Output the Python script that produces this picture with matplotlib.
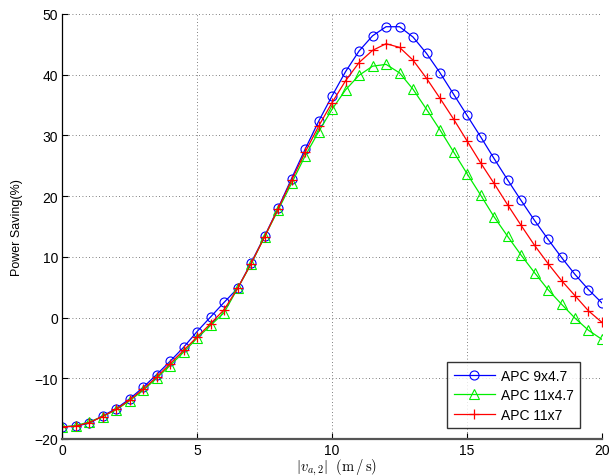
import matplotlib
matplotlib.use("Agg")
import matplotlib.pyplot as plt
import numpy as np

plt.rcParams['font.family'] = ['Liberation Sans', 'DejaVu Sans']
plt.rcParams['mathtext.fontset'] = 'cm'

speed = [i * 0.5 for i in range(41)]

apc_9x47 = [-18.0, -17.9, -17.4, -16.2, -15.0, -13.4, -11.5, -9.4, -7.2, -4.9,
            -2.3, 0.1, 2.5, 4.8, 9.0, 13.4, 18.0, 22.9, 27.7, 32.3,
            36.5, 40.5, 43.9, 46.4, 47.9, 47.9, 46.2, 43.5, 40.3, 36.8,
            33.3, 29.8, 26.2, 22.7, 19.3, 16.0, 12.9, 9.9, 7.1, 4.6, 2.4]

apc_11x47 = [-18.0, -17.8, -17.2, -16.3, -15.2, -13.7, -12.0, -10.0, -7.9, -5.7,
             -3.4, -1.3, 0.8, 4.8, 8.8, 13.3, 17.7, 22.1, 26.6, 30.6,
             34.3, 37.5, 39.9, 41.4, 41.7, 40.3, 37.6, 34.3, 30.9, 27.3,
             23.7, 20.2, 16.6, 13.4, 10.3, 7.4, 4.6, 2.2, -0.1, -2.1, -3.6]

apc_11x7 = [-18.0, -17.9, -17.3, -16.3, -15.1, -13.6, -11.8, -9.8, -7.6, -5.4,
            -3.2, -1.0, 1.3, 4.8, 8.9, 13.3, 17.9, 22.6, 27.2, 31.5,
            35.4, 39.0, 42.0, 44.0, 45.1, 44.5, 42.4, 39.4, 36.1, 32.7,
            29.1, 25.5, 22.1, 18.6, 15.2, 11.9, 8.9, 6.1, 3.6, 1.1, -0.8]

labels = ['APC 9x4.7', 'APC 11x4.7', 'APC 11x7']
xticks = [0, 5, 10, 15, 20]
yticks = [-20, -10, 0, 10, 20, 30, 40, 50]

fig = plt.figure(figsize=(6.09, 4.77), dpi=100)
ax = fig.add_axes([0.102, 0.0776, 0.8865, 0.891])

ax.plot(speed, apc_9x47, color='#0000ff', lw=0.9, marker='o', ms=6.5,
        mfc='none', mec='#0000ff', mew=0.8, label=labels[0])
ax.plot(speed, apc_11x47, color='#00ee00', lw=0.9, marker='^', ms=7,
        mfc='none', mec='#00ee00', mew=0.8, label=labels[1])
ax.plot(speed, apc_11x7, color='#ff0000', lw=0.9, marker='+', ms=7.5,
        mew=0.9, label=labels[2])

ax.set_xlim(0, 20)
ax.set_ylim(-20, 50)
ax.set_xticks(xticks)
ax.set_yticks(yticks)
ax.tick_params(direction='in', length=4, width=0.8, labelsize=10, pad=3)

ax.grid(True, linestyle=(0, (1, 3)), color='#555555', linewidth=0.6)
ax.set_axisbelow(True)
for s in ['top', 'right']:
    ax.spines[s].set_visible(False)
ax.spines['left'].set_linewidth(0.9)
ax.spines['bottom'].set_linewidth(1.6)
ax.spines['bottom'].set_color('#555555')

ax.set_ylabel('Power Saving(%)', fontsize=9, labelpad=8)
ax.set_xlabel(r'$|v_{a,2}|\ \ (\mathrm{m\,/\,s})$', fontsize=10.5, labelpad=0)
ax.xaxis.set_label_coords(0.508, -0.042)

leg = ax.legend(loc='lower right', bbox_to_anchor=(0.959, 0.026), fontsize=10,
                frameon=True, fancybox=False, edgecolor='black',
                handlelength=3.0, handletextpad=0.4, borderpad=0.45,
                labelspacing=0.4, borderaxespad=0)
leg.get_frame().set_linewidth(1.0)

fig.savefig('out.png', dpi=100)
